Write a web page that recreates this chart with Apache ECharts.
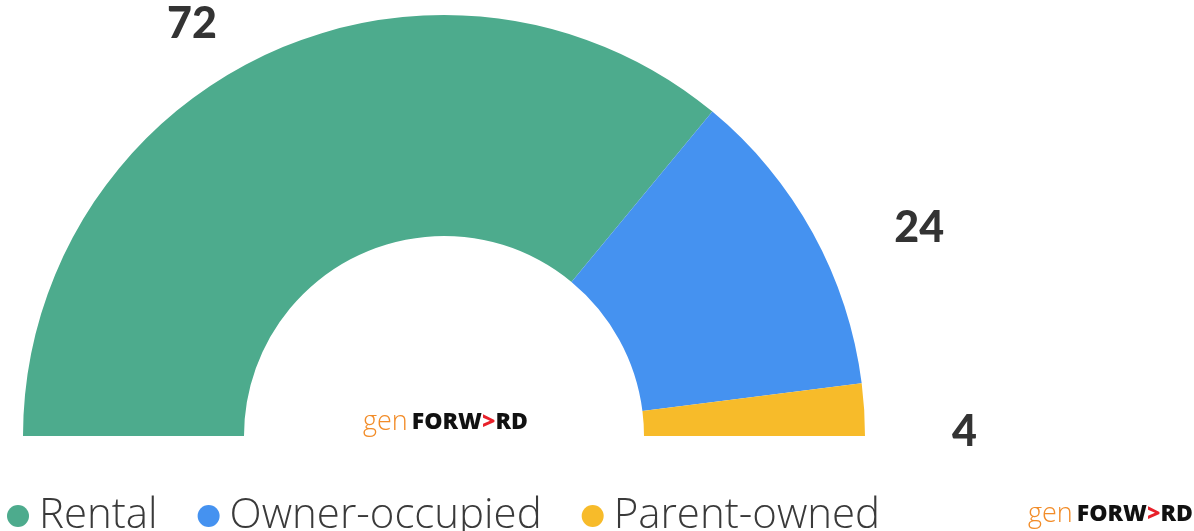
<!DOCTYPE html>
<html><head><meta charset="utf-8">
<script src="https://cdn.jsdelivr.net/npm/echarts@6/dist/echarts.min.js"></script>
<style>html,body{margin:0;padding:0;background:#fff}#c{width:1194px;height:531px}</style>
</head><body><div id="c"></div>
<script>
const categories = ['Rental', 'Owner-occupied', 'Parent-owned'];
const values = [72, 24, 4];
const colors = ['#4DAB8D', '#4592F0', '#F7BB2A'];
const labelShift = [[-30, -4], [50, 9], [53, 24]];

const chart = echarts.init(document.getElementById('c'));
const logoRich = {
  g: {color: '#F28C28', fontFamily: 'Open Sans', fontSize: 27, fontWeight: 300, padding: [0, 4, 0, 0]},
  f: {color: '#111', fontFamily: 'Open Sans', fontSize: 23, fontWeight: 800},
  a: {color: '#E8202A', fontFamily: 'Open Sans', fontSize: 23, fontWeight: 800}
};
chart.setOption({
  animation: false,
  color: colors,
  title: [
    {text: '{g|gen}{f|FORW}{a|>}{f|RD}', left: 358, top: 404, textStyle: {rich: logoRich}},
    {text: '{g|gen}{f|FORW}{a|>}{f|RD}', left: 1023, top: 496, textStyle: {rich: logoRich}}
  ],
  legend: {
    left: 2, top: 490, icon: 'circle', itemWidth: 22, itemHeight: 22, itemGap: 40,
    textStyle: {fontFamily: 'Open Sans', fontSize: 42, fontWeight: 300, color: '#3a3a3a', padding: [0, 0, 0, 5]},
    data: categories
  },
  series: [{
    type: 'pie',
    center: [444, 436],
    radius: [200, 421],
    startAngle: 180, endAngle: 0,
    clockwise: true,
    data: categories.map((c, i) => ({name: c, value: values[i]})),
    label: {show: true, position: 'outside', formatter: '{c}', fontFamily: 'Lato', fontWeight: 900, fontSize: 43, color: '#333'},
    labelLine: {show: false, length: 30, length2: 0},
    labelLayout: function (p) { const s = labelShift[p.dataIndex]; return {dx: s[0], dy: s[1]}; },
    itemStyle: {borderWidth: 0}
  }]
});
</script></body></html>
